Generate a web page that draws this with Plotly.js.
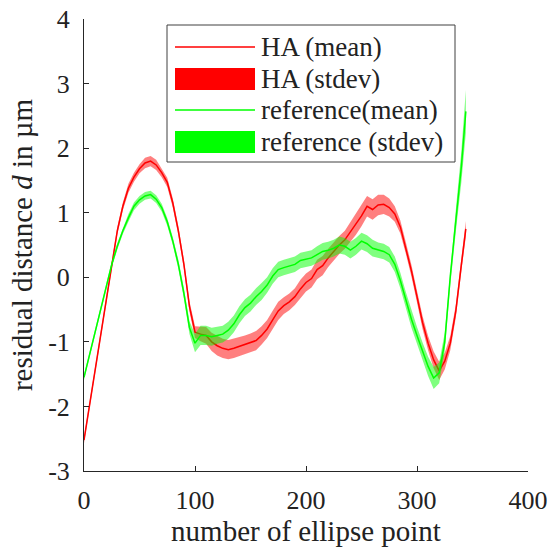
<!DOCTYPE html>
<html>
<head>
<meta charset="utf-8">
<script src="https://cdn.plot.ly/plotly-3.0.1.min.js"></script>
</head>
<body style="margin:0">
<div id="chart"></div>
<script>
// ---- data ----
var pointIndex = [0,5,10,15,20,25,30,35,40,45,50,55,60,65,70,75,80,85,90,95,
  100,105,110,115,120,125,130,135,140,145,150,155,160,165,170,175,180,185,190,195,
  200,205,210,215,220,225,230,235,240,245,250,255,260,265,270,275,280,285,290,295,
  300,305,310,315,320,325,330,335,340,344];

var haMean = [-2.52,-1.98,-1.43,-0.89,-0.34,0.20,0.72,1.10,1.38,1.55,1.68,1.77,1.80,1.74,1.62,1.47,1.15,0.72,0.20,-0.45,
  -0.85,-0.88,-0.90,-1.00,-1.06,-1.10,-1.12,-1.10,-1.07,-1.05,-1.02,-0.98,-0.90,-0.80,-0.66,-0.52,-0.44,-0.38,-0.30,-0.18,
  -0.08,-0.02,0.12,0.18,0.30,0.40,0.50,0.58,0.70,0.82,0.95,1.10,1.05,1.12,1.13,1.08,0.98,0.78,0.45,0.10,
  -0.30,-0.70,-1.02,-1.28,-1.45,-1.30,-1.02,-0.52,0.20,0.75];

var haStd = [0.05,0.05,0.05,0.05,0.05,0.05,0.06,0.06,0.07,0.07,0.07,0.08,0.08,0.08,0.07,0.07,0.07,0.07,0.07,0.08,
  0.09,0.11,0.13,0.14,0.15,0.15,0.15,0.15,0.15,0.15,0.15,0.15,0.14,0.14,0.14,0.14,0.13,0.13,0.13,0.14,
  0.14,0.14,0.15,0.15,0.14,0.14,0.14,0.14,0.15,0.16,0.16,0.16,0.16,0.16,0.15,0.14,0.12,0.10,0.09,0.09,
  0.09,0.10,0.11,0.13,0.14,0.13,0.11,0.10,0.10,0.12];

var refMean = [-1.55,-1.20,-0.85,-0.50,-0.15,0.20,0.48,0.72,0.92,1.10,1.20,1.26,1.28,1.21,1.08,0.86,0.56,0.20,-0.25,-0.78,
  -1.02,-0.90,-0.90,-0.92,-0.90,-0.88,-0.82,-0.72,-0.58,-0.47,-0.40,-0.30,-0.22,-0.12,0.02,0.12,0.15,0.17,0.20,0.26,
  0.28,0.30,0.35,0.40,0.42,0.45,0.50,0.48,0.42,0.48,0.56,0.52,0.45,0.42,0.40,0.35,0.20,-0.05,-0.35,-0.65,
  -0.90,-1.15,-1.38,-1.56,-1.48,-1.00,0.02,0.88,1.72,2.57];

var refStd = [0.04,0.04,0.04,0.04,0.04,0.05,0.05,0.05,0.06,0.06,0.06,0.06,0.06,0.06,0.06,0.06,0.06,0.07,0.08,0.10,
  0.14,0.15,0.15,0.14,0.13,0.13,0.13,0.13,0.13,0.13,0.13,0.13,0.13,0.12,0.12,0.12,0.12,0.12,0.12,0.12,
  0.12,0.12,0.13,0.13,0.13,0.13,0.13,0.13,0.13,0.13,0.13,0.13,0.13,0.12,0.12,0.12,0.12,0.12,0.12,0.13,
  0.13,0.14,0.15,0.17,0.16,0.14,0.14,0.17,0.24,0.33];

var legendLabels = ['HA (mean)', 'HA (stdev)', 'reference(mean)', 'reference (stdev)'];
var xTicks = [0, 100, 200, 300, 400];
var yTicks = [-3, -2, -1, 0, 1, 2, 3, 4];
var yTickText = ['-3', '-2', '-1', '0', '1', '2', '3', '4'];

// ---- styles ----
var RED = '#ff0000', GREEN = '#00ff00';
var RED_FILL = 'rgba(255,0,0,0.5)', GREEN_FILL = 'rgba(0,255,0,0.5)';
var FONT = 'Liberation Serif, serif';
var INK = '#222222';

function band(mean, std, sign) { return mean.map(function (m, i) { return m + sign * std[i]; }); }

var traces = [
  {x: pointIndex, y: band(haMean, haStd, -1), mode: 'lines', line: {width: 0, color: RED}, showlegend: false, hoverinfo: 'skip'},
  {x: pointIndex, y: band(haMean, haStd, 1), mode: 'lines', line: {width: 0, color: RED}, fill: 'tonexty', fillcolor: RED_FILL, showlegend: false, hoverinfo: 'skip'},
  {x: pointIndex, y: haMean, mode: 'lines', line: {width: 1.5, color: RED}, showlegend: false},
  {x: pointIndex, y: band(refMean, refStd, -1), mode: 'lines', line: {width: 0, color: GREEN}, showlegend: false, hoverinfo: 'skip'},
  {x: pointIndex, y: band(refMean, refStd, 1), mode: 'lines', line: {width: 0, color: GREEN}, fill: 'tonexty', fillcolor: GREEN_FILL, showlegend: false, hoverinfo: 'skip'},
  {x: pointIndex, y: refMean, mode: 'lines', line: {width: 1.5, color: GREEN}, showlegend: false}
];

// ---- hand-drawn legend box (paper coordinates from pixel positions) ----
var W = 558, H = 550, M = {l: 84, r: 30, t: 19, b: 79};
var pw = W - M.l - M.r, ph = H - M.t - M.b;
function px2x(p) { return (p - M.l) / pw; }
function px2y(p) { return (H - M.b - p) / ph; }

var shapes = [
  {type: 'rect', xref: 'paper', yref: 'paper', x0: px2x(167), x1: px2x(455), y0: px2y(162), y1: px2y(25),
   line: {color: '#404040', width: 1}, fillcolor: '#ffffff', layer: 'above'}
];
var rowY = [47, 79, 110, 142];
var symColors = [RED, RED, GREEN, GREEN];
var symFill = [false, true, false, true];
var annotations = [];
rowY.forEach(function (ry, i) {
  if (symFill[i]) {
    shapes.push({type: 'rect', xref: 'paper', yref: 'paper', x0: px2x(175), x1: px2x(255), y0: px2y(ry + 11), y1: px2y(ry - 11),
      line: {width: 0}, fillcolor: symColors[i], layer: 'above'});
  } else {
    shapes.push({type: 'line', xref: 'paper', yref: 'paper', x0: px2x(175), x1: px2x(255), y0: px2y(ry), y1: px2y(ry),
      line: {color: symColors[i], width: 1.5}, layer: 'above'});
  }
  annotations.push({xref: 'paper', yref: 'paper', x: px2x(259), y: px2y(ry), xanchor: 'left', yanchor: 'middle',
    text: legendLabels[i], showarrow: false, font: {family: FONT, size: 27, color: INK}});
});

var layout = {
  width: W, height: H,
  margin: M,
  paper_bgcolor: '#ffffff', plot_bgcolor: '#ffffff',
  showlegend: false,
  font: {family: FONT, color: INK},
  xaxis: {
    range: [0, 400], tickvals: xTicks, ticks: 'inside', ticklen: 5, tickcolor: '#262626',
    showline: true, linecolor: '#262626', linewidth: 1, showgrid: false, zeroline: false, mirror: false,
    tickfont: {family: FONT, size: 26, color: INK}, ticklabelstandoff: 6,
    title: {text: 'number of ellipse point', font: {family: FONT, size: 29, color: INK}, standoff: 6}
  },
  yaxis: {
    range: [-3, 4], tickvals: yTicks, ticktext: yTickText, ticks: 'inside', ticklen: 5, tickcolor: '#262626',
    showline: true, linecolor: '#262626', linewidth: 1, showgrid: false, zeroline: false, mirror: false,
    tickfont: {family: FONT, size: 26, color: INK}, ticklabelstandoff: 8,
    title: {text: 'residual distance <i>d</i> in µm', font: {family: FONT, size: 29, color: INK}, standoff: 6}
  },
  shapes: shapes,
  annotations: annotations
};

Plotly.newPlot('chart', traces, layout, {displayModeBar: false, staticPlot: true});
</script>
</body>
</html>
